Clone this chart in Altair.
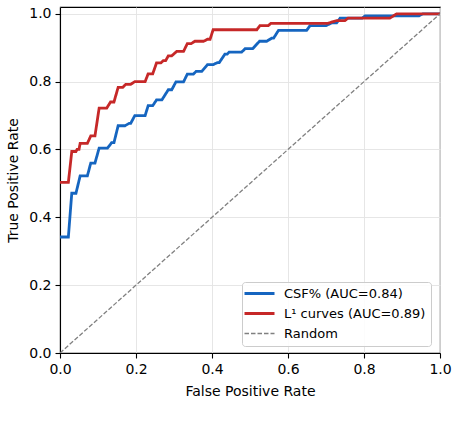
import altair as alt
import pandas as pd

series_names = ["CSF% (AUC=0.84)", "L¹ curves (AUC=0.89)", "Random"]
series_colors = ["#1565c0", "#c62828", "#808080"]

csf_fpr = [0, 0.022, 0.031, 0.042, 0.053, 0.072, 0.081, 0.092, 0.103, 0.125, 0.136, 0.142,
           0.153, 0.171, 0.182, 0.186, 0.197, 0.224, 0.232, 0.244, 0.254, 0.268, 0.285, 0.294,
           0.305, 0.325, 0.335, 0.351, 0.358, 0.373, 0.388, 0.403, 0.414, 0.419, 0.434, 0.44,
           0.445, 0.478, 0.487, 0.507, 0.525, 0.544, 0.557, 0.562, 0.575, 0.649, 0.658, 0.70,
           0.715, 0.728, 0.737, 0.795, 0.803, 0.945, 0.955, 1.0]
csf_tpr = [0.342, 0.342, 0.471, 0.471, 0.522, 0.522, 0.56, 0.56, 0.604, 0.604, 0.62, 0.62,
           0.67, 0.67, 0.677, 0.677, 0.70, 0.70, 0.729, 0.729, 0.746, 0.746, 0.776, 0.776,
           0.799, 0.799, 0.822, 0.822, 0.83, 0.83, 0.85, 0.85, 0.856, 0.856, 0.881, 0.881,
           0.887, 0.887, 0.897, 0.897, 0.919, 0.919, 0.928, 0.928, 0.951, 0.951, 0.965, 0.965,
           0.973, 0.973, 0.987, 0.987, 0.994, 0.994, 1.0, 1.0]

l1_fpr = [0, 0.022, 0.031, 0.042, 0.045, 0.05, 0.053, 0.072, 0.081, 0.092, 0.103, 0.123,
          0.133, 0.142, 0.153, 0.165, 0.173, 0.186, 0.197, 0.224, 0.232, 0.244, 0.254, 0.265,
          0.272, 0.278, 0.285, 0.294, 0.307, 0.325, 0.335, 0.345, 0.355, 0.378, 0.388, 0.395,
          0.403, 0.518, 0.526, 0.548, 0.555, 0.705, 0.728, 0.750, 0.758, 0.868, 0.886, 1.0]
l1_tpr = [0.503, 0.503, 0.594, 0.594, 0.60, 0.60, 0.618, 0.618, 0.64, 0.64, 0.722, 0.722,
          0.74, 0.74, 0.783, 0.783, 0.792, 0.792, 0.80, 0.80, 0.823, 0.823, 0.855, 0.855,
          0.862, 0.862, 0.876, 0.876, 0.889, 0.889, 0.912, 0.912, 0.919, 0.919, 0.925, 0.925,
          0.953, 0.953, 0.965, 0.965, 0.972, 0.972, 0.98, 0.98, 0.987, 0.987, 1.0, 1.0]

rand_fpr = [0.0, 1.0]
rand_tpr = [0.0, 1.0]

tick_vals = [0.0, 0.2, 0.4, 0.6, 0.8, 1.0]


def frame(name, xs, ys):
    return pd.DataFrame({"fpr": xs, "tpr": ys, "series": name, "idx": range(len(xs))})


data = pd.concat([
    frame(series_names[0], csf_fpr, csf_tpr),
    frame(series_names[1], l1_fpr, l1_tpr),
    frame(series_names[2], rand_fpr, rand_tpr),
], ignore_index=True)

legend = alt.Legend(
    title=None, orient="none", legendX=182, legendY=275,
    symbolType="M-3,0L3,0", symbolSize=100, symbolOffset=6,
    labelFontSize=13, labelFont="DejaVu Sans",
    labelColor="black", fillColor="rgba(255,255,255,0.85)", strokeColor="#cccccc",
    cornerRadius=3, padding=5, rowPadding=6, labelOffset=18, labelLimit=300,
)

base = alt.Chart(data).mark_line(clip=True).encode(
    x=alt.X("fpr:Q", scale=alt.Scale(domain=[0, 1], nice=False, zero=False),
            axis=alt.Axis(values=tick_vals, format=".1f", title="False Positive Rate")),
    y=alt.Y("tpr:Q", scale=alt.Scale(domain=[0, 1.02], nice=False, zero=False),
            axis=alt.Axis(values=tick_vals, format=".1f", title="True Positive Rate")),
    color=alt.Color("series:N", scale=alt.Scale(domain=series_names, range=series_colors), legend=legend),
    strokeDash=alt.StrokeDash("series:N", scale=alt.Scale(type="ordinal", domain=series_names,
                                                         range=[[1, 0], [1, 0], [4.5, 2]]), legend=legend),
    strokeWidth=alt.StrokeWidth("series:N", scale=alt.Scale(type="ordinal", domain=series_names,
                                                           range=[2.8, 2.8, 1.3]), legend=legend),
    order=alt.Order("idx:Q"),
)

layers = [base.transform_filter(alt.datum.series == s) for s in series_names]

chart = alt.layer(*layers).properties(
    width=380, height=346,
    autosize=alt.AutoSizeParams(type="none"),
    padding={"left": 60, "top": 7, "right": 18, "bottom": 77},
).configure_view(
    stroke="black", strokeWidth=1.1
).configure_axis(
    domainColor="black", tickColor="black", labelColor="black", titleColor="black",
    labelFont="DejaVu Sans", titleFont="DejaVu Sans", labelFontSize=14, titleFontSize=14,
    titleFontWeight="normal", gridColor="#e3e3e3", gridWidth=0.9, tickSize=5,
    labelPadding=4, domainWidth=1.1, tickWidth=1.1, labelFlush=False, labelOverlap=False,
).configure_axisX(titlePadding=8).configure_axisY(titlePadding=8)

chart.save("out.html", embed_options={"renderer": "svg", "actions": False})
